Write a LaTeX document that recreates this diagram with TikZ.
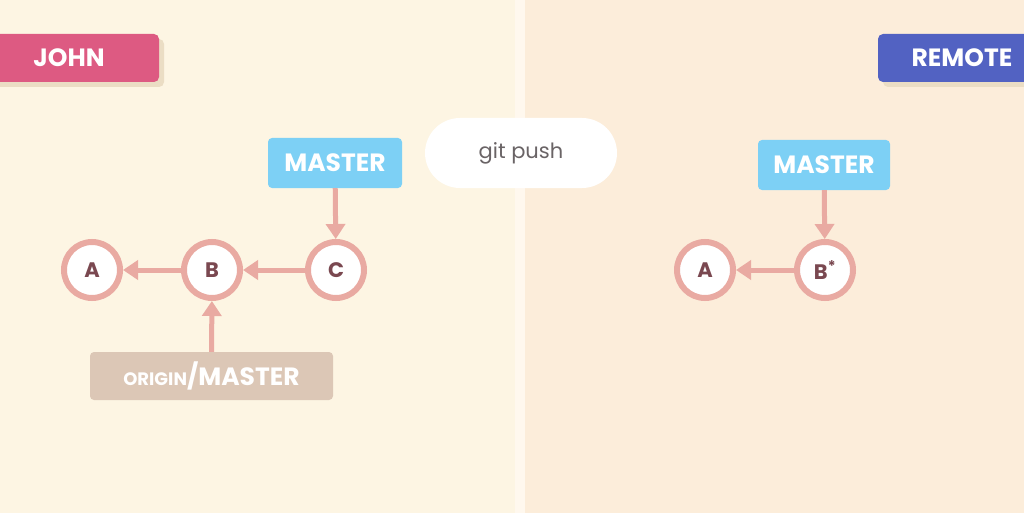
\documentclass[tikz,border=0pt]{standalone}
\usepackage{fontspec}
\setmainfont{Poppins}
\usepackage{xcolor}
\usepackage{tikz}
\usetikzlibrary{arrows.meta,shadows}

\definecolor{bgleft}{HTML}{FDF5E3}
\definecolor{bgright}{HTML}{FCEDDA}
\definecolor{divline}{HTML}{FFF8EE}
\definecolor{johncol}{HTML}{DD5A82}
\definecolor{remotecol}{HTML}{5262C2}
\definecolor{shade}{HTML}{EBDDC4}
\definecolor{mastercol}{HTML}{7DD0F5}
\definecolor{origincol}{HTML}{DCC7B6}
\definecolor{ringcol}{HTML}{E9AAA2}
\definecolor{letter}{HTML}{7A4850}
\definecolor{cmdtext}{HTML}{6A6466}

\begin{document}
\begin{tikzpicture}[x=1pt,y=-1pt,
    owner/.style={rectangle,rounded corners=5pt,text=white,font=\bfseries\fontsize{25}{28}\selectfont,
        minimum height=48pt,drop shadow={shadow xshift=5pt,shadow yshift=-5pt,fill=shade,opacity=1}},
    branch/.style={rectangle,rounded corners=4pt,text=white,font=\bfseries\fontsize{25}{28}\selectfont,
        minimum height=50pt},
    commit/.style={circle,draw=ringcol,line width=6pt,fill=white,minimum size=56pt,inner sep=0pt,
        text=letter,font=\bfseries\fontsize{21}{24}\selectfont},
    pointer/.style={draw=ringcol,line width=5pt,-{Triangle[width=19pt,length=15pt]}},
]
    \clip (0,0) rectangle (1024,513);
    \useasboundingbox (0,0) rectangle (1024,513);
    % two halves
    \fill[bgleft] (0,0) rectangle (520,513);
    \fill[bgright] (520,0) rectangle (1024,513);
    \fill[divline] (515,0) rectangle (525,513);

    \node[owner,fill=johncol,minimum width=180pt] (john) at (69,58) {JOHN};
    \node[owner,fill=remotecol,minimum width=168pt] (remote) at (962,58) {REMOTE};

    \node[rectangle,rounded corners=35pt,fill=white,minimum width=192pt,minimum height=70pt,
        text=cmdtext,font=\fontsize{21}{23}\selectfont] (push) at (521,153) {git push};

    % john's repository
    \node[commit] (jA) at (92,270) {A};
    \node[commit] (jB) at (212,270) {B};
    \node[commit] (jC) at (336,270) {C};
    \node[branch,fill=mastercol,minimum width=134pt] (jmaster) at (335,163) {MASTER};
    \node[branch,fill=origincol,minimum width=243pt,minimum height=48pt] (origin) at (211.5,376)
        {{\fontsize{18}{20}\selectfont ORIGIN}/MASTER};
    \draw[pointer] (jC) -- (jB);
    \draw[pointer] (jB) -- (jA);
    \draw[pointer] (jmaster) -- (jC);
    \draw[pointer] (origin) -- (jB);

    % remote repository
    \node[commit] (rA) at (705,270) {A};
    \node[commit] (rB) at (825,270) {B\textsuperscript{*}};
    \node[branch,fill=mastercol,minimum width=132pt] (rmaster) at (824,165) {MASTER};
    \draw[pointer] (rB) -- (rA);
    \draw[pointer] (rmaster) -- (rB);
\end{tikzpicture}
\end{document}
